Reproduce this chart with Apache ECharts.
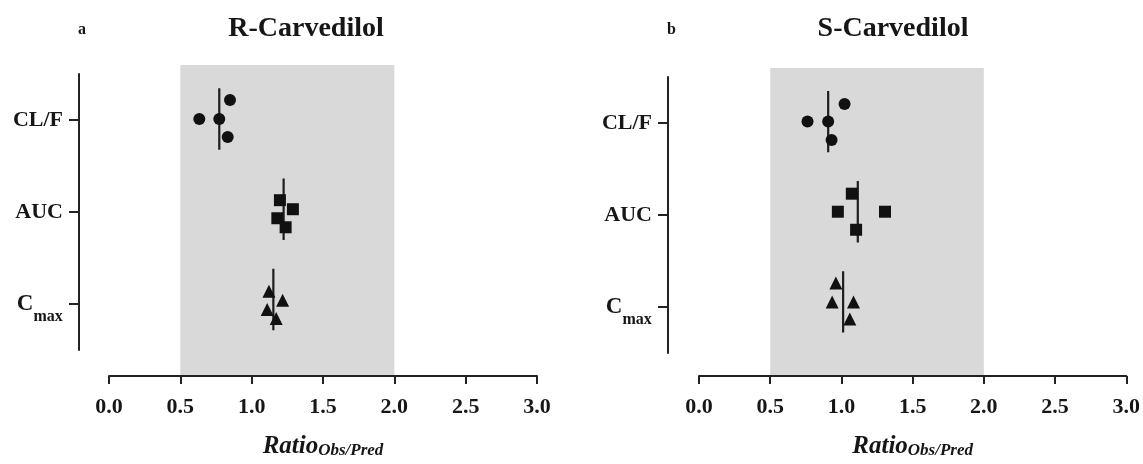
<!DOCTYPE html>
<html>
<head>
<meta charset="utf-8">
<script src="https://cdn.jsdelivr.net/npm/echarts@6/dist/echarts.min.js"></script>
<style>html,body{margin:0;padding:0;background:#fff}#c{width:1143px;height:464px}</style>
</head>
<body>
<div id="c"></div>
<script>
// ---- data ----
const categories = ['CL/F', 'AUC', 'Cmax'];
const xTickLabels = ['0.0', '0.5', '1.0', '1.5', '2.0', '2.5', '3.0'];
const panelTitles = ['R-Carvedilol', 'S-Carvedilol'];
const panelLetters = ['a', 'b'];
const acceptRange = [0.5, 2.0];

// R-Carvedilol: observed/predicted ratios and vertical jitter (in category units)
const rCLF_x = [0.848, 0.633, 0.773, 0.832];
const rCLF_j = [-0.21, 0, 0, 0.20];
const rAUC_x = [1.198, 1.289, 1.180, 1.238];
const rAUC_j = [-0.10, 0, 0.10, 0.20];
const rCmax_x = [1.121, 1.217, 1.109, 1.172];
const rCmax_j = [-0.09, 0.01, 0.11, 0.21];
const rMean = [0.773, 1.224, 1.152];

// S-Carvedilol
const sCLF_x = [1.022, 0.762, 0.907, 0.931];
const sCLF_j = [-0.195, 0, 0, 0.205];
const sAUC_x = [1.073, 0.975, 1.306, 1.103];
const sAUC_j = [-0.20, 0, 0, 0.20];
const sCmax_x = [0.961, 0.935, 1.085, 1.059];
const sCmax_j = [-0.21, 0, 0, 0.19];
const sMean = [0.907, 1.115, 1.012];

const meanHalfSpan = 0.34;

// ---- chart ----
const FONT = 'Liberation Serif';
const INK = '#111111';
const AX = '#222222';
const TXT = '#161616';

function pts(xs, js, cat) { return xs.map((x, i) => [x, cat + js[i]]); }

const catLabelRich = {
  b: { fontFamily: FONT, fontWeight: 'bold', fontSize: 22, color: TXT },
  c: { fontFamily: FONT, fontWeight: 'bold', fontSize: 23, color: TXT, verticalAlign: 'middle', lineHeight: 23 },
  s: { fontFamily: FONT, fontWeight: 'bold', fontSize: 16, color: TXT, verticalAlign: 'bottom', lineHeight: 16 },
  sp: { lineHeight: 42, fontSize: 1 }
};

function catFormatter(v) {
  if (v === 'Cmax') return '{c|C}{s|max}{sp| }';
  return '{b|' + v + '}';
}

const panels = [
  { left: 109, top: 65, height: 317, yMin: 0.402, yMax: 3.848, axLeft: 79, axTop: 74, axH: 276,
    titleX: 301, letterX: 73,
    sets: [[rCLF_x, rCLF_j, 'circle', 12], [rAUC_x, rAUC_j, 'rect', 12], [rCmax_x, rCmax_j, 'triangle', 13]], mean: rMean },
  { left: 699, top: 68, height: 315, yMin: 0.406, yMax: 3.822, axLeft: 668, axTop: 77, axH: 276,
    titleX: 888, letterX: 662,
    sets: [[sCLF_x, sCLF_j, 'circle', 12], [sAUC_x, sAUC_j, 'rect', 12], [sCmax_x, sCmax_j, 'triangle', 13]], mean: sMean }
];

const grid = [], xAxis = [], yAxis = [], series = [], title = [];

panels.forEach((p, k) => {
  const gMain = grid.length;
  grid.push({ left: p.left, top: p.top, width: 428, height: p.height });
  const gAx = grid.length;
  grid.push({ left: p.axLeft, top: p.axTop, width: 10, height: p.axH });

  xAxis.push({
    gridIndex: gMain, type: 'value', min: 0, max: 3, interval: 0.5, z: 5,
    axisLine: { show: true, lineStyle: { color: AX, width: 2 } },
    axisTick: { show: true, inside: false, length: 8, lineStyle: { color: AX, width: 2 } },
    splitLine: { show: false },
    axisLabel: {
      margin: 20, fontFamily: FONT, fontWeight: 'bold', fontSize: 22, color: TXT,
      formatter: v => xTickLabels[Math.round(v / 0.5)]
    },
    name: '{r|Ratio}{s|Obs/Pred}', nameLocation: 'middle', nameGap: 58,
    nameTextStyle: {
      rich: {
        r: { fontFamily: FONT, fontWeight: 'bold', fontStyle: 'italic', fontSize: 25, color: TXT, verticalAlign: 'top', lineHeight: 25 },
        s: { fontFamily: FONT, fontWeight: 'bold', fontStyle: 'italic', fontSize: 17, color: TXT, verticalAlign: 'bottom', lineHeight: 17 }
      },
      lineHeight: 32
    }
  });
  yAxis.push({ gridIndex: gMain, type: 'value', inverse: true, min: p.yMin, max: p.yMax, show: false });

  xAxis.push({ gridIndex: gAx, type: 'value', show: false });
  yAxis.push({
    gridIndex: gAx, type: 'category', inverse: true, data: categories, boundaryGap: true,
    axisLine: { show: true, lineStyle: { color: AX, width: 2 } },
    axisTick: { show: true, alignWithLabel: true, length: 10, lineStyle: { color: AX, width: 2 } },
    axisLabel: { margin: 16, formatter: catFormatter, rich: catLabelRich }
  });

  // acceptance band + mean lines
  const meanData = [];
  p.mean.forEach((m, i) => {
    if (i > 0) meanData.push([null, null]);
    meanData.push([m, i + 1 - meanHalfSpan]);
    meanData.push([m, i + 1 + meanHalfSpan]);
  });
  series.push({
    type: 'line', xAxisIndex: gMain, yAxisIndex: gMain, data: meanData, z: 2,
    symbol: 'none', connectNulls: false, silent: true, animation: false,
    lineStyle: { color: '#1e1e1e', width: 2.2 },
    markArea: {
      silent: true, z: 1,
      itemStyle: { color: '#d9d9d9' },
      data: [[{ xAxis: acceptRange[0] }, { xAxis: acceptRange[1] }]]
    }
  });

  p.sets.forEach((s, i) => {
    series.push({
      type: 'scatter', xAxisIndex: gMain, yAxisIndex: gMain, z: 3, animation: false,
      symbol: s[2], symbolSize: s[3], itemStyle: { color: INK, opacity: 1 },
      data: pts(s[0], s[1], i + 1)
    });
  });

  title.push({
    text: panelTitles[k], left: p.titleX, top: 10, textAlign: 'center',
    textStyle: { fontFamily: FONT, fontWeight: 'bold', fontSize: 28, color: TXT }
  });
  title.push({
    text: panelLetters[k], left: p.letterX, top: 17,
    textStyle: { fontFamily: FONT, fontWeight: 'bold', fontSize: 16, color: TXT }
  });
});

const chart = echarts.init(document.getElementById('c'), null, { renderer: 'canvas' });
chart.setOption({ animation: false, backgroundColor: '#fff', title, grid, xAxis, yAxis, series });
</script>
</body>
</html>
